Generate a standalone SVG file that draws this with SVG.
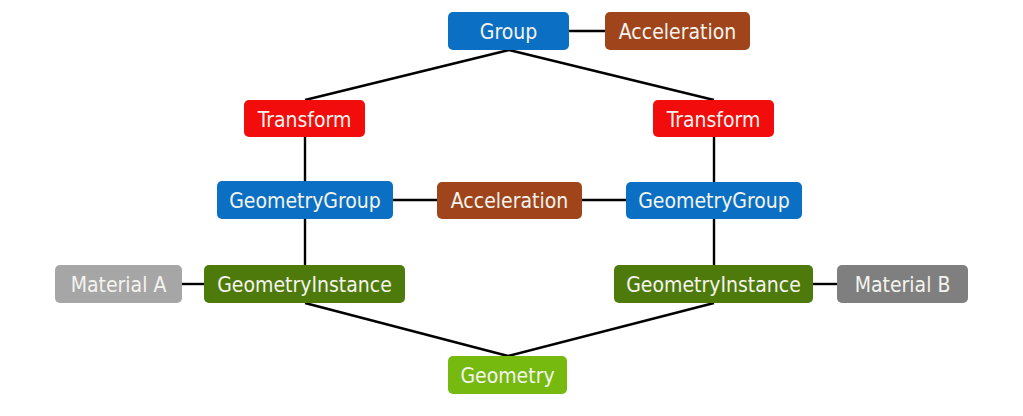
<svg xmlns="http://www.w3.org/2000/svg" width="1023" height="416" viewBox="0 0 1023 416">
<style>
.n rect{rx:5;ry:5}
.n text{font-family:"DejaVu Sans Condensed","DejaVu Sans","Liberation Sans",sans-serif;font-stretch:condensed;font-size:21px;fill:#f4f4ee;text-anchor:middle;dominant-baseline:central}
.c line{stroke:#000;stroke-width:2.4}
</style>
<rect width="1023" height="416" fill="#fff"/>
<g class="c" id="connectors">
<line x1="569" y1="31" x2="605" y2="31"/>
<line x1="509" y1="50" x2="305" y2="100"/>
<line x1="509" y1="50" x2="714" y2="100"/>
<line x1="305" y1="137" x2="305" y2="181"/>
<line x1="714" y1="137" x2="714" y2="182"/>
<line x1="393" y1="200" x2="437" y2="200"/>
<line x1="582" y1="200" x2="626" y2="200"/>
<line x1="305" y1="219" x2="305" y2="265"/>
<line x1="714" y1="219" x2="714" y2="265"/>
<line x1="182" y1="284" x2="204" y2="284"/>
<line x1="813" y1="284" x2="837" y2="284"/>
<line x1="305" y1="303" x2="508" y2="356"/>
<line x1="714" y1="303" x2="508" y2="356"/>
</g>
<g class="n" id="group"><rect x="448" y="12" width="121" height="38" fill="#0b6fc4"/><text x="508.5" y="32">Group</text></g>
<g class="n" id="accel-top"><rect x="605" y="12" width="145" height="38" fill="#a0441b"/><text x="677.5" y="32">Acceleration</text></g>
<g class="n" id="transform-l"><rect x="244" y="100" width="121" height="37" fill="#f20c0c"/><text x="304.5" y="119.5">Transform</text></g>
<g class="n" id="transform-r"><rect x="653" y="100" width="121" height="37" fill="#f20c0c"/><text x="713.5" y="119.5">Transform</text></g>
<g class="n" id="gg-l"><rect x="217" y="181" width="176" height="38" fill="#0b6fc4"/><text x="305" y="201">GeometryGroup</text></g>
<g class="n" id="accel-mid"><rect x="437" y="182" width="145" height="37" fill="#a0441b"/><text x="509.5" y="201">Acceleration</text></g>
<g class="n" id="gg-r"><rect x="626" y="182" width="176" height="37" fill="#0b6fc4"/><text x="714" y="201">GeometryGroup</text></g>
<g class="n" id="mat-a"><rect x="55" y="265" width="127" height="38" fill="#a6a6a6"/><text x="118.5" y="285">Material A</text></g>
<g class="n" id="gi-l"><rect x="204" y="265" width="201" height="38" fill="#4e7a0c"/><text x="304.5" y="285">GeometryInstance</text></g>
<g class="n" id="gi-r"><rect x="614" y="265" width="199" height="38" fill="#4e7a0c"/><text x="713.5" y="285">GeometryInstance</text></g>
<g class="n" id="mat-b"><rect x="837" y="265" width="131" height="38" fill="#7f7f7f"/><text x="902.5" y="285">Material B</text></g>
<g class="n" id="geometry"><rect x="448" y="356" width="119" height="38" fill="#76b90f"/><text x="507.5" y="376">Geometry</text></g>
</svg>
